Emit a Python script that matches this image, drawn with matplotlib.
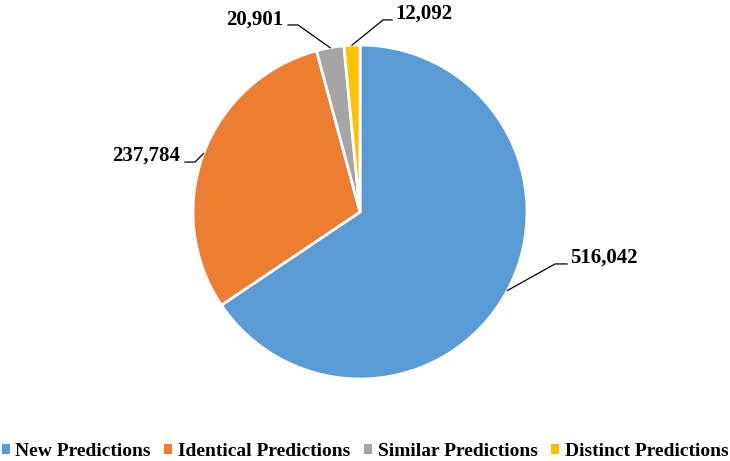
import matplotlib.pyplot as plt
import numpy as np
from matplotlib.patches import Patch

plt.rcParams['font.family'] = ['Liberation Serif', 'DejaVu Serif']
plt.rcParams['font.weight'] = 'bold'

categories = ["New Predictions", "Identical Predictions", "Similar Predictions", "Distinct Predictions"]
counts = [516042, 237784, 20901, 12092]
labels = ["516,042", "237,784", "20,901", "12,092"]
colors = ["#5B9BD5", "#ED7D31", "#A5A5A5", "#FFC000"]

fig = plt.figure(figsize=(7.3, 4.61), dpi=100)
R = 167
ax = fig.add_axes([(360 - R) / 730, (461 - 212 - R) / 461, 2 * R / 730, 2 * R / 461])
wedges, _ = ax.pie(counts, colors=colors, startangle=90, counterclock=False,
                   radius=1, wedgeprops=dict(edgecolor="white", linewidth=2))
ax.set_xlim(-1, 1)
ax.set_ylim(-1, 1)
ax.axis("off")

# label layout: (text x, text y, ha, elbow start x, elbow end x, elbow y)
layout = [
    (1.257, -0.275, "left", 1.240, 1.168, -0.311),
    (-1.078, 0.335, "right", -1.048, -0.988, 0.299),
    (-0.461, 1.150, "right", -0.431, -0.371, 1.120),
    (0.210, 1.186, "left", 0.192, 0.138, 1.150),
]
for w, lab, (tx, ty, ha, x0, x1, ly) in zip(wedges, labels, layout):
    mid = np.deg2rad((w.theta1 + w.theta2) / 2)
    ex, ey = np.cos(mid), np.sin(mid)
    ax.plot([x0, x1, ex], [ly, ly, ey], color="black", lw=0.9, clip_on=False)
    ax.text(tx, ty, lab, ha=ha, va="center", fontsize=15, fontweight="bold", clip_on=False)

handles = [Patch(facecolor=c, edgecolor="none") for c in colors]
fig.legend(handles, categories, loc="lower center", bbox_to_anchor=(0.5, -0.035), ncol=4,
           frameon=False, fontsize=14, handlelength=0.4, handleheight=0.4,
           handletextpad=0.3, columnspacing=0.7)

fig.savefig("out.png", dpi=100)
